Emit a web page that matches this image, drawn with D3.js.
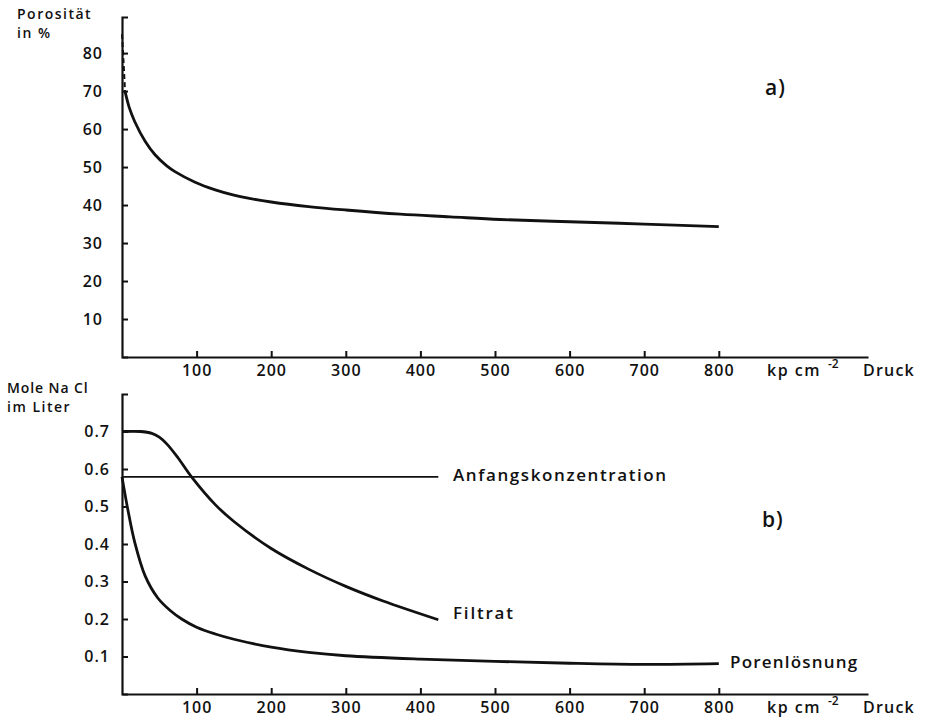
<!DOCTYPE html>
<html>
<head>
<meta charset="utf-8">
<script src="https://cdn.jsdelivr.net/npm/d3@7"></script>
<style>
  body { margin: 0; background: #fff; }
  svg text { font-family: "Open Sans", "DejaVu Sans", sans-serif; font-weight: 600; fill: #111; }
</style>
</head>
<body>
<svg id="chart" width="927" height="719"></svg>
<script>
'use strict';
// Druck in kp cm-2
const xTicks = [100, 200, 300, 400, 500, 600, 700, 800];
const porosityTicks = [10, 20, 30, 40, 50, 60, 70, 80];
const naclTicks = [0.1, 0.2, 0.3, 0.4, 0.5, 0.6, 0.7];

// a) Porosität in %
const porosityDashed = [[0, 85], [2, 78], [4, 70]];
const porosity = [[4, 70], [10, 65.5], [17, 62], [31, 56.8], [44, 53.3], [60, 50.3], [71, 48.8],
  [98, 46], [125, 44], [150, 42.6], [169, 41.8], [200, 40.8], [250, 39.6], [300, 38.7],
  [373, 37.6], [440, 36.9], [507, 36.2], [600, 35.6], [700, 35], [800, 34.3]];

// b) Mole NaCl im Liter
const anfangsKonz = [[0, 0.579], [424, 0.579]];
const filtrat = [[0, 0.7], [25, 0.7], [40, 0.695], [50, 0.685], [60, 0.667], [75, 0.63], [94, 0.577],
  [125, 0.505], [150, 0.46], [200, 0.388], [250, 0.333], [300, 0.287], [350, 0.248], [424, 0.198]];
const porenLoesung = [[0, 0.579], [8, 0.49], [17, 0.405], [31, 0.315], [48, 0.256], [65, 0.222],
  [80, 0.2], [100, 0.178], [125, 0.16], [150, 0.146], [200, 0.125], [250, 0.111], [300, 0.102],
  [400, 0.093], [500, 0.087], [600, 0.082], [700, 0.079], [800, 0.081]];

const svg = d3.select("#chart");

const x = d3.scaleLinear().domain([0, 1000]).range([122, 868]);
const yTop = d3.scaleLinear().domain([0, 89.5]).range([357, 17]);
const yBot = d3.scaleLinear().domain([0, 0.8]).range([694, 394]);

function drawAxes(yScale, yValues, yFmt, yPad, xBase) {
  let gx = svg.append("g")
    .attr("transform", "translate(0," + xBase + ")")
    .call(d3.axisBottom(x).tickValues(xTicks).tickSizeInner(-6).tickSizeOuter(0).tickPadding(8));
  let gy = svg.append("g")
    .attr("transform", "translate(" + x(0) + ",0)")
    .call(d3.axisLeft(yScale).tickValues(yValues).tickFormat(yFmt).tickSizeInner(-6).tickSizeOuter(-6).tickPadding(yPad));
  [gx, gy].forEach(function (g) {
    g.attr("font-family", null);
    g.select(".domain").attr("stroke", "#111").attr("stroke-width", 2.2);
    g.selectAll(".tick line").attr("stroke", "#111").attr("stroke-width", 2);
    g.selectAll(".tick text").style("font-size", "16px").style("letter-spacing", "1px").attr("fill", "#111");
  });
  svg.append("text").attr("x", 767).attr("y", xBase + 19).style("font-size", "16px")
    .style("letter-spacing", "1.5px").text("kp cm");
  svg.append("text").attr("x", 828).attr("y", xBase + 11).style("font-size", "12px").text("-2");
  svg.append("text").attr("x", 863).attr("y", xBase + 19).style("font-size", "16px")
    .style("letter-spacing", "1.2px").text("Druck");
}

drawAxes(yTop, porosityTicks, d3.format("d"), 19, yTop(0));
drawAxes(yBot, naclTicks, d3.format(".1f"), 12, yBot(0));

const lineTop = d3.line().x(d => x(d[0])).y(d => yTop(d[1])).curve(d3.curveCatmullRom.alpha(0.5));
const lineBot = d3.line().x(d => x(d[0])).y(d => yBot(d[1])).curve(d3.curveCatmullRom.alpha(0.5));

svg.append("path").attr("d", lineTop(porosityDashed)).attr("fill", "none")
  .attr("stroke", "#111").attr("stroke-width", 2).attr("stroke-dasharray", "5,3");
svg.append("path").attr("d", lineTop(porosity)).attr("fill", "none")
  .attr("stroke", "#111").attr("stroke-width", 2.8);

svg.append("path").attr("d", lineBot(anfangsKonz)).attr("fill", "none")
  .attr("stroke", "#111").attr("stroke-width", 1.6);
svg.append("path").attr("d", lineBot(filtrat)).attr("fill", "none")
  .attr("stroke", "#111").attr("stroke-width", 2.8);
svg.append("path").attr("d", lineBot(porenLoesung)).attr("fill", "none")
  .attr("stroke", "#111").attr("stroke-width", 2.8);

// titles and labels
function label(tx, ty, txt, size, spacing) {
  svg.append("text").attr("x", tx).attr("y", ty).style("font-size", size + "px")
    .style("letter-spacing", spacing + "px").text(txt);
}
label(17, 19, "Porosität", 14, 1.5);
label(17, 38, "in %", 14, 1.5);
label(7, 393, "Mole Na Cl", 14, 0.9);
label(7, 412, "im Liter", 14, 1.5);
label(765, 95, "a)", 21, 1);
label(762, 527, "b)", 21, 1);
label(453, 481, "Anfangskonzentration", 17, 1.6);
label(453, 619, "Filtrat", 17, 1.8);
label(730, 668, "Porenlösnung", 17, 1.2);
</script>
</body>
</html>
